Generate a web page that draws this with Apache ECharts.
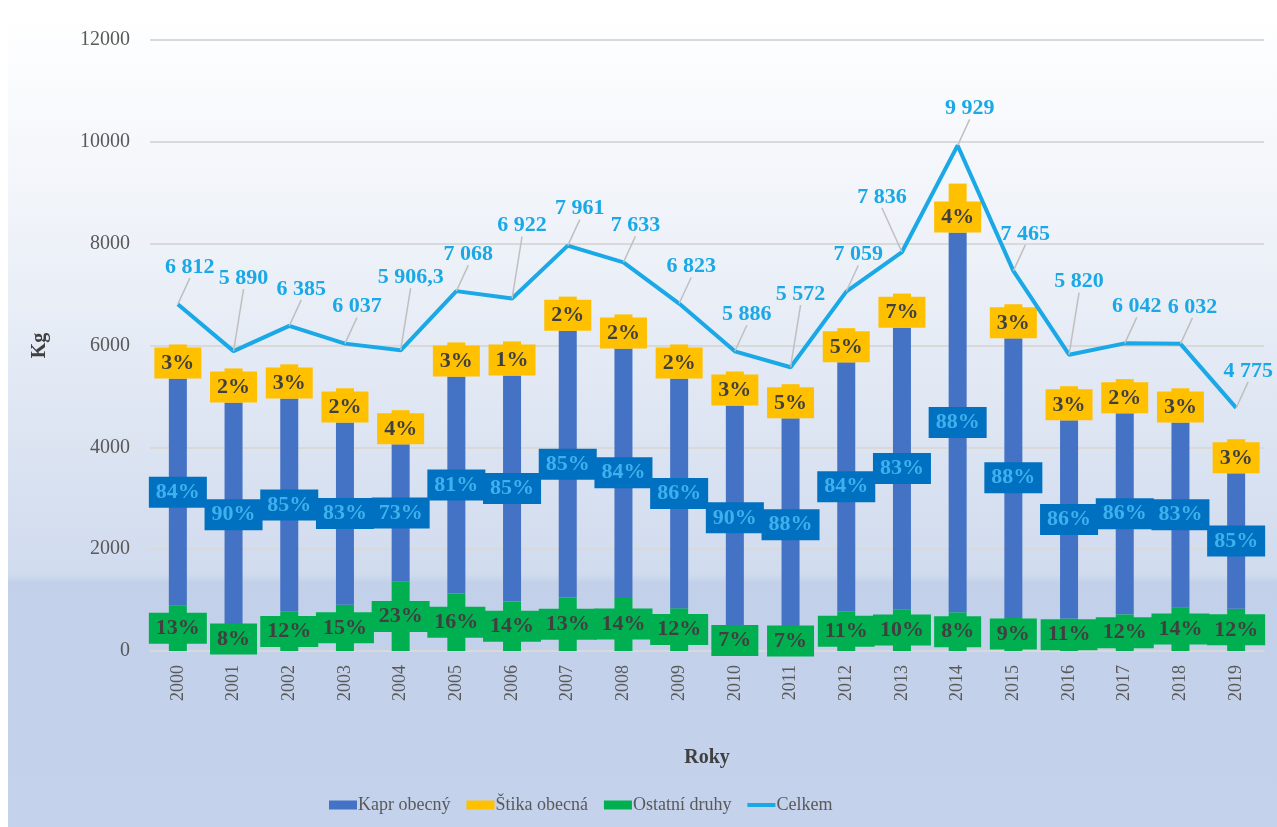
<!DOCTYPE html>
<html>
<head>
<meta charset="utf-8">
<script src="https://cdn.jsdelivr.net/npm/echarts@6/dist/echarts.min.js"></script>
<style>
  html, body { margin: 0; padding: 0; background: #ffffff; }
  #chart { position: absolute; left: 8px; top: 12px; width: 1269px; height: 815px; }
</style>
</head>
<body>
<div id="chart"></div>
<script>
const years = ['2000', '2001', '2002', '2003', '2004', '2005', '2006', '2007', '2008', '2009',
  '2010', '2011', '2012', '2013', '2014', '2015', '2016', '2017', '2018', '2019'];

// bar segment heights (kg) as drawn in the picture
const ostatniKg = [890, 470, 770, 910, 1360, 1130, 970, 1050, 1060, 840, 410, 390, 780, 820, 760, 670, 640, 720, 860, 830];
const kaprKg = [4460, 4410, 4190, 3580, 2700, 4260, 4440, 5240, 4880, 4510, 4410, 4180, 4890, 5530, 7460, 5470, 3890, 3950, 3630, 2660];
const stikaKg = [670, 670, 670, 670, 670, 670, 670, 670, 670, 670, 670, 670, 670, 670, 960, 670, 670, 670, 670, 670];

// percentage labels
const kaprPct = [84, 90, 85, 83, 73, 81, 85, 85, 84, 86, 90, 88, 84, 83, 88, 88, 86, 86, 83, 85];
const stikaPct = [3, 2, 3, 2, 4, 3, 1, 2, 2, 2, 3, 5, 5, 7, 4, 3, 3, 2, 3, 3];
const ostatniPct = [13, 8, 12, 15, 23, 16, 14, 13, 14, 12, 7, 7, 11, 10, 8, 9, 11, 12, 14, 12];

const celkem = [6812, 5890, 6385, 6037, 5906.3, 7068, 6922, 7961, 7633, 6823,
  5886, 5572, 7059, 7836, 9929, 7465, 5820, 6042, 6032, 4775];

const yTicks = { min: 0, max: 12000, interval: 2000 };

const serif = '"Liberation Serif", "DejaVu Serif", serif';

function formatCz(value) {
  const parts = String(value).split('.');
  const intPart = parts[0].replace(/\B(?=(\d{3})+(?!\d))/g, ' ');
  return parts[1] ? intPart + ',' + parts[1] : intPart;
}

function pctLabel(pcts, bg, fg, position, distance) {
  return {
    show: true,
    position: position,
    distance: distance,
    formatter: (p) => pcts[p.dataIndex] + '%',
    fontFamily: serif,
    fontSize: 22,
    fontWeight: 'bold',
    color: fg,
    backgroundColor: bg,
    padding: [5, 7, 4, 7],
  };
}

// total labels sit higher over dips, and go left before a steep climb
function totalLabelLayout(params) {
  const i = params.dataIndex;
  const prev = celkem[i - 1];
  const next = celkem[i + 1];
  const v = celkem[i];
  if (next !== undefined && next - v > 1500) return { dx: -20, dy: -40 };
  if (prev !== undefined && next !== undefined && prev > v && next > v) return { dx: 10, dy: -58 };
  return { dx: 12, dy: -22 };
}

const chart = echarts.init(document.getElementById('chart'));

chart.setOption({
  backgroundColor: {
    type: 'linear', x: 0, y: 0, x2: 0, y2: 1,
    colorStops: [
      { offset: 0, color: '#ffffff' },
      { offset: 0.3, color: '#edf1f8' },
      { offset: 0.69, color: '#d0dbee' },
      { offset: 0.7, color: '#c3d0e9' },
      { offset: 1, color: '#c5d2eb' },
    ],
  },
  animation: false,
  textStyle: { fontFamily: serif },
  grid: { left: 142, right: 13, top: 28, bottom: 176 },
  legend: {
    left: 316,
    top: 779,
    itemWidth: 28,
    itemHeight: 9,
    itemGap: 16,
    data: [
      { name: 'Kapr obecný', icon: 'rect' },
      { name: 'Štika obecná', icon: 'rect' },
      { name: 'Ostatní druhy', icon: 'rect' },
      { name: 'Celkem', icon: 'path://M0,0h0.01v9h-0.01z M0,2.5h28v4h-28z' },
    ],
    textStyle: { fontFamily: serif, fontSize: 18, color: '#595959', padding: [0, 0, 0, -4] },
  },
  xAxis: {
    type: 'category',
    data: years,
    name: 'Roky',
    nameLocation: 'middle',
    nameGap: 97,
    nameTextStyle: { fontFamily: serif, fontSize: 20, fontWeight: 'bold', color: '#404040' },
    axisLine: { lineStyle: { color: '#d9d9d9', width: 2 } },
    axisTick: { show: false },
    axisLabel: { rotate: 90, margin: 14, fontFamily: serif, fontSize: 18, color: '#595959' },
  },
  yAxis: {
    type: 'value',
    min: yTicks.min,
    max: yTicks.max,
    interval: yTicks.interval,
    name: 'Kg',
    nameLocation: 'middle',
    nameGap: 100,
    nameTextStyle: { fontFamily: serif, fontSize: 20, fontWeight: 'bold', color: '#404040' },
    axisLabel: { margin: 20, fontFamily: serif, fontSize: 20, color: '#595959', formatter: (v) => String(v) },
    splitLine: { lineStyle: { color: '#d9d9d9', width: 2 } },
  },
  series: [
    {
      name: 'Ostatní druhy',
      type: 'bar',
      stack: 'druhy',
      barWidth: 18,
      data: ostatniKg,
      itemStyle: { color: '#00b050' },
      label: pctLabel(ostatniPct, '#00b050', '#404040', 'inside', 0),
    },
    {
      name: 'Kapr obecný',
      type: 'bar',
      stack: 'druhy',
      barWidth: 18,
      data: kaprKg,
      itemStyle: { color: '#4472c4' },
      label: pctLabel(kaprPct, '#0070c0', '#3fb0ee', 'inside', 0),
    },
    {
      name: 'Štika obecná',
      type: 'bar',
      stack: 'druhy',
      barWidth: 18,
      data: stikaKg,
      itemStyle: { color: '#ffc000' },
      label: pctLabel(stikaPct, '#ffc000', '#404040', 'insideBottom', 0),
    },
    {
      name: 'Celkem',
      type: 'line',
      data: celkem,
      symbol: 'circle',
      symbolSize: 0.1,
      showSymbol: true,
      lineStyle: { color: '#1aa8e6', width: 4 },
      itemStyle: { color: '#1aa8e6' },
      z: 5,
      label: {
        show: true,
        position: 'top',
        distance: 4,
        formatter: (p) => formatCz(p.value),
        fontFamily: serif,
        fontSize: 22,
        fontWeight: 'bold',
        color: '#1aa8e6',
      },
      labelLine: { show: true, lineStyle: { color: '#bfbfbf', width: 1.5 } },
      labelLayout: totalLabelLayout,
    },
  ],
});
</script>
</body>
</html>
